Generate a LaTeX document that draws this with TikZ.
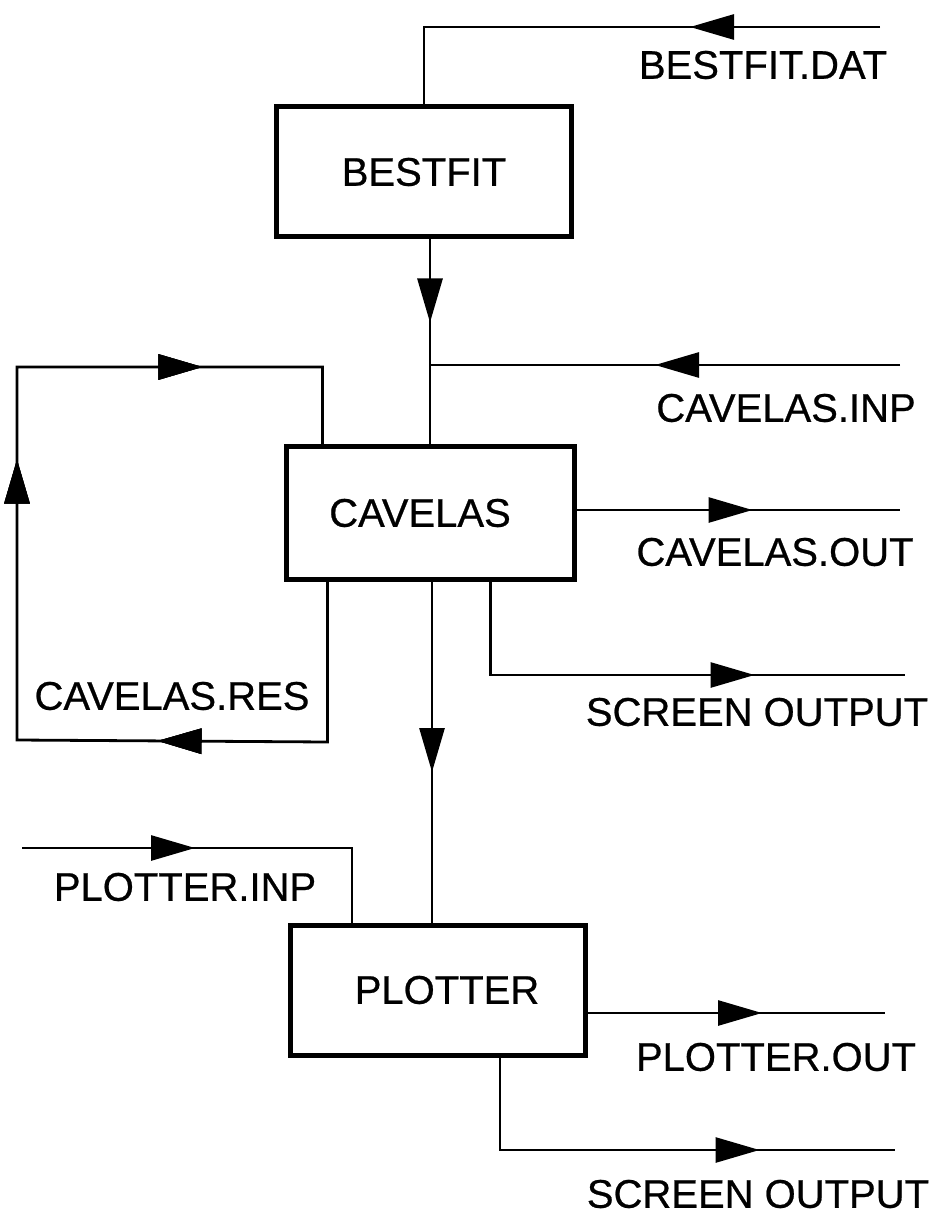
\documentclass[tikz,border=0pt]{standalone}
\usepackage{fontspec}
\setmainfont[FakeBold=0.6]{Liberation Sans}
\usetikzlibrary{arrows.meta,decorations.markings}

\tikzset{
  prog/.style={draw, line width=5pt, minimum width=295pt, minimum height=130pt,
               inner sep=0pt, font=\fontsize{40}{48}\selectfont},
  lbl/.style={inner sep=0pt, font=\fontsize{40}{48}\selectfont},
  flow/.style={line width=2.8pt},
  tipat/.style={postaction={decorate}, decoration={markings,
      mark=at position #1 with {\arrow{Triangle[length=44pt,width=25pt]}}}},
}

\begin{document}
\begin{tikzpicture}[x=1pt,y=-1pt]
\useasboundingbox (0,0) rectangle (940,1222);

% program boxes
\node[prog] (bestfit) at (424,172) {BESTFIT};
\node[prog, minimum width=288pt, minimum height=133pt] (cavelas) at (430,513) {\hspace*{-20pt}CAVELAS};
\node[prog] (plotter) at (438,990) {\hspace*{18pt}PLOTTER};

% free ends of the file streams
\coordinate (datin)  at (880,27);
\coordinate (inpin)  at (900,365);
\coordinate (junc)   at (430,365);
\coordinate (cout)   at (900,510);
\coordinate (scr1)   at (905,675);
\coordinate (pin)    at (22,848);
\coordinate (pout)   at (885,1013);
\coordinate (scr2)   at (895,1150);

% BESTFIT input
\draw[flow, tipat=190pt] (datin) -| (bestfit.north);
% BESTFIT -> CAVELAS
\draw[flow, tipat=83pt] (bestfit.south -| cavelas.north) -- (cavelas.north);
% CAVELAS input
\draw[flow, tipat=245pt] (inpin) -- (junc);
% CAVELAS restart loop
\draw[flow, tipat=330pt, tipat=751pt, tipat=1029pt]
  ([xshift=44pt]cavelas.south west) -- ++(0,160) -- (17,740) -- (17,367)
  -| ([xshift=39pt]cavelas.north west);
% CAVELAS outputs
\draw[flow, tipat=176pt] (cavelas.east |- cout) -- (cout);
\draw[flow, tipat=357pt] ([xshift=207pt]cavelas.south west) |- (scr1);
% CAVELAS -> PLOTTER
\draw[flow, tipat=190pt] ([xshift=2pt]cavelas.south) -- ([xshift=2pt]cavelas.south |- plotter.north);
% PLOTTER input
\draw[flow, tipat=173pt] (pin) -| ([xshift=64pt]plotter.north west);
% PLOTTER outputs
\draw[flow, tipat=174pt] (plotter.east |- pout) -- (pout);
\draw[flow, tipat=352pt] ([xshift=212pt]plotter.south west) |- (scr2);

% file labels
\node[lbl] (lbestdat) at (763,65)   {BESTFIT.DAT};
\node[lbl] (lcavinp)  at (786,408)  {CAVELAS.INP};
\node[lbl] (lcavout)  at (775,552)  {CAVELAS.OUT};
\node[lbl] (lscr1)    at (757,712)  {SCREEN OUTPUT};
\node[lbl] (lcavres)  at (172,696)  {CAVELAS.RES};
\node[lbl] (lplinp)   at (185,887)  {PLOTTER.INP};
\node[lbl] (lplout)   at (776,1057) {PLOTTER.OUT};
\node[lbl] (lscr2)    at (758,1194) {SCREEN OUTPUT};
\end{tikzpicture}
\end{document}
